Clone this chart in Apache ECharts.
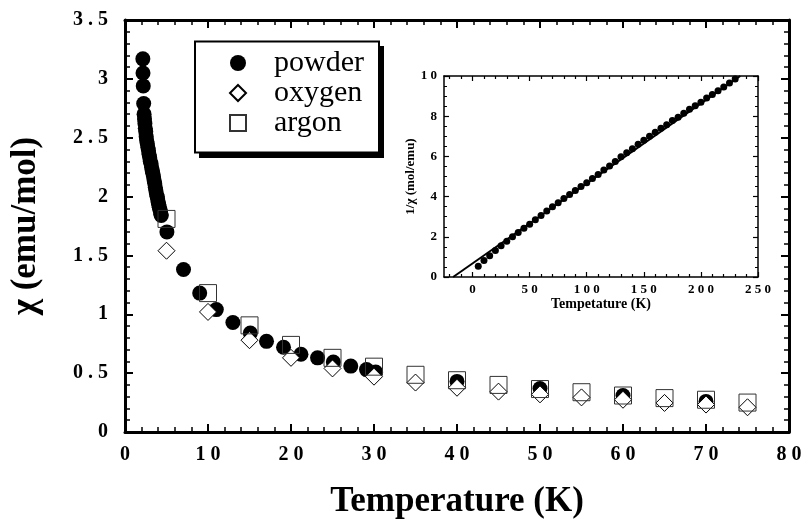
<!DOCTYPE html>
<html>
<head>
<meta charset="utf-8">
<script src="https://cdn.jsdelivr.net/npm/echarts@6/dist/echarts.min.js"></script>
<style>
  html, body { margin: 0; padding: 0; background: #fff; }
  #chart { width: 807px; height: 524px; }
</style>
</head>
<body>
<div id="chart"></div>
<script>
// main plot: susceptibility vs temperature
const powderT = [2.15, 2.17, 2.2, 2.25, 2.3, 2.35, 2.4, 2.45, 2.5, 2.55, 2.6, 2.68, 2.75, 2.83, 2.9, 2.98,
  3.05, 3.13, 3.2, 3.28, 3.35, 3.43, 3.5, 3.58, 3.65, 3.72, 3.8, 3.87, 3.93, 4.0, 4.07, 4.13, 4.2, 4.27, 4.33, 4.37,
  5.05, 7.05, 9.0, 11.0, 13.0, 15.1, 17.05, 19.1, 21.2, 23.2, 25.1, 27.2, 29.1, 30.2, 40, 50, 60, 70];
const powderChi = [3.17, 3.05, 2.94, 2.79, 2.70, 2.66, 2.62, 2.58, 2.55, 2.51, 2.48, 2.45, 2.42, 2.39, 2.36, 2.33,
  2.30, 2.28, 2.25, 2.22, 2.20, 2.17, 2.14, 2.11, 2.08, 2.05, 2.02, 2.00, 1.98, 1.95, 1.93, 1.91, 1.89, 1.87, 1.85, 1.84,
  1.70, 1.38, 1.18, 1.04, 0.93, 0.84, 0.77, 0.72, 0.66, 0.63, 0.595, 0.56, 0.53, 0.51, 0.43, 0.37, 0.31, 0.26];

const gasT = [5, 10, 15, 20, 25, 30, 35, 40, 45, 50, 55, 60, 65, 70, 75];
const oxygenChi = [1.54, 1.02, 0.78, 0.63, 0.54, 0.47, 0.42, 0.376, 0.343, 0.32, 0.294, 0.274, 0.247, 0.233, 0.21];
const argonChi = [1.81, 1.18, 0.906, 0.74, 0.63, 0.555, 0.486, 0.44, 0.40, 0.365, 0.338, 0.31, 0.288, 0.274, 0.25];

// inset: 1/chi vs temperature
const insetT = [5, 10, 15, 20, 25, 30, 35, 40, 45, 50, 55, 60, 65, 70, 75, 80, 85, 90, 95, 100,
  105, 110, 115, 120, 125, 130, 135, 140, 145, 150, 155, 160, 165, 170, 175, 180, 185, 190, 195, 200,
  205, 210, 215, 220, 225, 230];
const insetInv = [0.53, 0.82, 1.06, 1.32, 1.56, 1.78, 2.0, 2.22, 2.43, 2.63, 2.85, 3.06, 3.28, 3.5, 3.7, 3.9, 4.1, 4.3, 4.5, 4.69,
  4.9, 5.1, 5.32, 5.52, 5.75, 5.98, 6.18, 6.38, 6.6, 6.8, 7.0, 7.2, 7.4, 7.58, 7.78, 7.95, 8.15, 8.35, 8.52, 8.7,
  8.9, 9.08, 9.27, 9.45, 9.65, 9.85];
const fitT = [-17, 234.5];
const fitInv = [0, 10];

const insetMajorX = [0, 50, 100, 150, 200, 250];
const insetMinorX = [-20, -10, 10, 20, 30, 40, 60, 70, 80, 90, 110, 120, 130, 140, 160, 170, 180, 190, 210, 220, 230, 240];

const zip = (a, b) => a.map((v, i) => [v, b[i]]);
const spaced = v => String(v).split('').join(' ');
const serif = 'Liberation Serif';

const mainX = (pos, labels) => ({
  gridIndex: 0, type: 'value', position: pos, min: 0, max: 80, interval: 10,
  axisLine: { show: true, onZero: false, lineStyle: { color: '#000', width: 3 } },
  axisTick: { show: true, inside: true, length: 8, lineStyle: { color: '#000', width: 2 } },
  minorTick: { show: true, splitNumber: 5, length: 5, lineStyle: { color: '#000', width: 1.5 } },
  axisLabel: { show: labels, margin: 13, color: '#000', fontFamily: serif, fontWeight: 'bold', fontSize: 20, formatter: spaced },
  splitLine: { show: false }
});
const mainY = (pos, labels) => ({
  gridIndex: 0, type: 'value', position: pos, min: 0, max: 3.5, interval: 0.5,
  axisLine: { show: true, onZero: false, lineStyle: { color: '#000', width: 3 } },
  axisTick: { show: true, inside: true, length: 8, lineStyle: { color: '#000', width: 2 } },
  minorTick: { show: true, splitNumber: 5, length: 5, lineStyle: { color: '#000', width: 1.5 } },
  axisLabel: { show: labels, margin: 17, color: '#000', fontFamily: serif, fontWeight: 'bold', fontSize: 20, formatter: spaced },
  splitLine: { show: false }
});
const insetX = (pos, labels, ticks, len, line) => ({
  gridIndex: 1, type: 'value', position: pos, min: -25, max: 250,
  axisLine: { show: line, onZero: false, lineStyle: { color: '#000', width: 1.5 } },
  axisTick: { show: true, inside: true, length: len, customValues: ticks, lineStyle: { color: '#000', width: 1.2 } },
  axisLabel: { show: labels, margin: 6, customValues: insetMajorX, color: '#000', fontFamily: serif, fontWeight: 'bold', fontSize: 13, formatter: spaced },
  splitLine: { show: false }
});
const insetY = (pos, labels) => ({
  gridIndex: 1, type: 'value', position: pos, min: 0, max: 10, interval: 2,
  axisLine: { show: true, onZero: false, lineStyle: { color: '#000', width: 1.5 } },
  axisTick: { show: true, inside: true, length: 5, lineStyle: { color: '#000', width: 1.2 } },
  minorTick: { show: true, splitNumber: 4, length: 3, lineStyle: { color: '#000', width: 1 } },
  axisLabel: { show: labels, margin: 7, color: '#000', fontFamily: serif, fontWeight: 'bold', fontSize: 13, formatter: spaced },
  splitLine: { show: false }
});

const chart = echarts.init(document.getElementById('chart'), null, { renderer: 'canvas' });

const xMainBottom = mainX('bottom', true);
xMainBottom.name = 'Temperature (K)';
xMainBottom.nameLocation = 'middle';
xMainBottom.nameGap = 52;
xMainBottom.nameTextStyle = { color: '#000', fontFamily: serif, fontWeight: 'bold', fontSize: 35 };

const yMainLeft = mainY('left', true);
yMainLeft.name = 'χ (emu/mol)';
yMainLeft.nameLocation = 'middle';
yMainLeft.nameGap = 82;
yMainLeft.nameTextStyle = { color: '#000', fontFamily: serif, fontWeight: 'bold', fontSize: 35 };

const xInsetBottom = insetX('bottom', true, insetMajorX, 5, true);
xInsetBottom.name = 'Tempetature (K)';
xInsetBottom.nameLocation = 'middle';
xInsetBottom.nameGap = 19;
xInsetBottom.nameTextStyle = { color: '#000', fontFamily: serif, fontWeight: 'bold', fontSize: 14 };

const yInsetLeft = insetY('left', true);
yInsetLeft.name = '1/χ (mol/emu)';
yInsetLeft.nameLocation = 'middle';
yInsetLeft.nameGap = 26;
yInsetLeft.nameTextStyle = { color: '#000', fontFamily: serif, fontWeight: 'bold', fontSize: 13 };

const option = {
  backgroundColor: '#fff',
  animation: false,
  grid: [
    { left: 124, top: 20, right: 18, bottom: 79 },
    { left: 444, top: 76, right: 49, bottom: 247, show: true, backgroundColor: '#fff', borderWidth: 0 }
  ],
  // legend frame with a drop shadow
  graphic: [
    { type: 'rect', z: 5, silent: true, shape: { x: 199, y: 46, width: 185, height: 112 }, style: { fill: '#000' } },
    { type: 'rect', z: 6, silent: true, shape: { x: 195, y: 41.5, width: 184, height: 111 }, style: { fill: '#fff', stroke: '#000', lineWidth: 2 } }
  ],
  legend: {
    orient: 'vertical',
    left: 229, top: 48, z: 10,
    padding: 0,
    itemWidth: 16, itemHeight: 16, itemGap: 0,
    textStyle: { color: '#000', fontFamily: serif, fontSize: 30, padding: [0, 0, 0, 23] },
    data: ['powder', 'oxygen', 'argon']
  },
  xAxis: [
    xMainBottom,
    mainX('top', false),
    xInsetBottom,
    insetX('top', false, insetMajorX, 5, true),
    insetX('bottom', false, insetMinorX, 3, false),
    insetX('top', false, insetMinorX, 3, false)
  ],
  yAxis: [
    yMainLeft,
    mainY('right', false),
    yInsetLeft,
    insetY('right', false)
  ],
  series: [
    {
      name: 'powder', type: 'scatter', xAxisIndex: 0, yAxisIndex: 0,
      symbol: 'circle', symbolSize: 15, z: 2,
      itemStyle: { color: '#000', opacity: 1 },
      data: zip(powderT, powderChi)
    },
    {
      name: 'oxygen', type: 'scatter', xAxisIndex: 0, yAxisIndex: 0,
      symbol: 'diamond', symbolSize: 17, z: 3,
      itemStyle: { color: '#fff', borderColor: '#000', borderWidth: 1, opacity: 1 },
      data: zip(gasT, oxygenChi)
    },
    {
      name: 'argon', type: 'scatter', xAxisIndex: 0, yAxisIndex: 0,
      symbol: 'rect', symbolSize: 17, z: 4,
      itemStyle: { color: 'rgba(0,0,0,0)', borderColor: '#333', borderWidth: 1, opacity: 1 },
      data: zip(gasT, argonChi)
    },
    {
      type: 'line', xAxisIndex: 2, yAxisIndex: 2,
      symbol: 'none', z: 3,
      lineStyle: { color: '#000', width: 2 },
      data: zip(fitT, fitInv)
    },
    {
      type: 'scatter', xAxisIndex: 2, yAxisIndex: 2,
      symbol: 'circle', symbolSize: 7, z: 4,
      itemStyle: { color: '#000', opacity: 1 },
      data: zip(insetT, insetInv)
    }
  ]
};

chart.setOption(option);
</script>
</body>
</html>
